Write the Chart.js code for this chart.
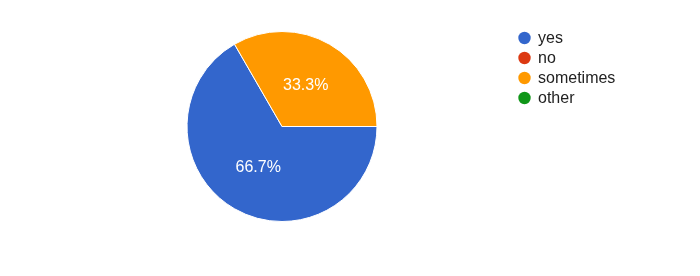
<!DOCTYPE html>
<html>
<head>
<meta charset="utf-8">
<script src="https://cdn.jsdelivr.net/npm/chart.js@4/dist/chart.umd.min.js"></script>
<style>
  html, body { margin: 0; padding: 0; background: #fff; }
  #wrap { width: 700px; height: 276px; }
</style>
</head>
<body>
<div id="wrap"><canvas id="pieChart"></canvas></div>
<script>
// Datos del gráfico
const etiquetas = ['yes', 'no', 'sometimes', 'other'];
const valores = [2, 0, 1, 0];
const colores = ['#3366cc', '#dc3912', '#ff9900', '#109618'];

// Leyenda propia a la derecha
const leyendaPlugin = {
    id: 'leyendaDerecha',
    afterDraw(chart) {
        const ctx = chart.ctx;
        ctx.save();
        ctx.font = '16px Arial, "Liberation Sans", sans-serif';
        ctx.textBaseline = 'middle';
        ctx.textAlign = 'left';
        etiquetas.forEach((txt, i) => {
            const y = 38 + i * 20;
            ctx.beginPath();
            ctx.arc(524.5, y, 6.2, 0, Math.PI * 2);
            ctx.fillStyle = colores[i];
            ctx.fill();
            ctx.fillStyle = '#222222';
            ctx.fillText(txt, 538, y + 1);
        });
        ctx.restore();
    }
};

// Porcentajes dentro de cada sector
const porcentajesPlugin = {
    id: 'porcentajes',
    afterDatasetsDraw(chart) {
        const ctx = chart.ctx;
        const meta = chart.getDatasetMeta(0);
        const total = valores.reduce((a, b) => a + b, 0);
        ctx.save();
        ctx.font = '16px Arial, "Liberation Sans", sans-serif';
        ctx.fillStyle = '#ffffff';
        ctx.textAlign = 'center';
        ctx.textBaseline = 'middle';
        meta.data.forEach((arc, i) => {
            if (!valores[i]) return;
            const p = arc.tooltipPosition();
            const pct = (valores[i] / total * 100).toFixed(1) + '%';
            ctx.fillText(pct, p.x, p.y);
        });
        ctx.restore();
    }
};

new Chart(document.getElementById('pieChart'), {
    type: 'pie',
    data: {
        labels: etiquetas,
        datasets: [{
            data: valores,
            backgroundColor: colores,
            borderColor: '#ffffff',
            borderWidth: 1
        }]
    },
    options: {
        responsive: true,
        maintainAspectRatio: false,
        animation: false,
        rotation: 90,
        layout: {
            padding: { top: 31, bottom: 54, left: 186.5, right: 322.5 }
        },
        plugins: {
            legend: { display: false },
            tooltip: { enabled: false }
        }
    },
    plugins: [porcentajesPlugin, leyendaPlugin]
});
</script>
</body>
</html>
